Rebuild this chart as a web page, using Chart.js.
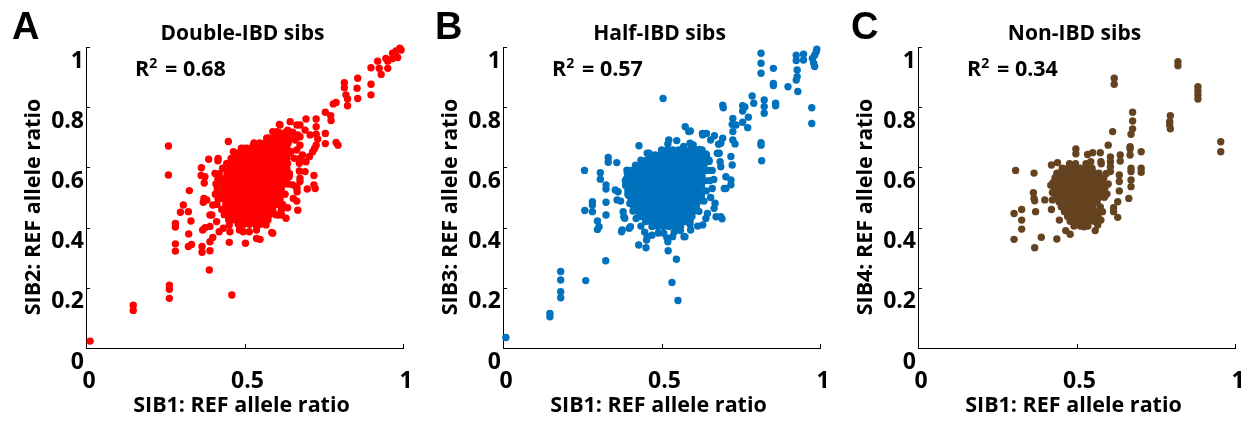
<!DOCTYPE html>
<html>
<head>
<meta charset="utf-8">
<script src="https://cdn.jsdelivr.net/npm/chart.js@4.4.0/dist/chart.umd.min.js"></script>
<style>
  html, body { margin: 0; padding: 0; background: #fff; }
  #wrap { position: relative; width: 1251px; height: 421px; overflow: hidden; }
  .panel { position: absolute; top: 0; width: 417px; height: 421px; }
</style>
</head>
<body>
<div id="wrap">
  <div class="panel" style="left:0px"><canvas id="chartA" width="417" height="421"></canvas></div>
  <div class="panel" style="left:417px"><canvas id="chartB" width="417" height="421"></canvas></div>
  <div class="panel" style="left:832px"><canvas id="chartC" width="417" height="421"></canvas></div>
</div>
<script>
// axes
const xTicks = [0, 0.5, 1];
const xTickLabels = ['0', '0.5', '1'];
const yTicks = [0, 0.2, 0.4, 0.6, 0.8, 1];
const yTickLabels = ['0', '0.2', '0.4', '0.6', '0.8', '1'];

// panel texts
const panelLetters = ['A', 'B', 'C'];
const panelTitles = ['Double-IBD sibs', 'Half-IBD sibs', 'Non-IBD sibs'];
const rSquared = ['0.68', '0.57', '0.34'];
const xTitle = 'SIB1: REF allele ratio';
const yTitles = ['SIB2: REF allele ratio', 'SIB3: REF allele ratio', 'SIB4: REF allele ratio'];
const colors = ['#ff0000', '#0072bd', '#654321'];

// dense cores: [y, [x, x, ...]]
const doubleIbdCore = [
  [0.715, [0.610, 0.628, 0.646]],
  [0.698, [0.575, 0.593, 0.611, 0.629, 0.645]],
  [0.681, [0.530, 0.548, 0.566, 0.584, 0.602, 0.620, 0.638]],
  [0.664, [0.490, 0.508, 0.526, 0.544, 0.562, 0.580, 0.598, 0.616, 0.634]],
  [0.647, [0.470, 0.481, 0.499, 0.517, 0.535, 0.553, 0.571, 0.589, 0.607, 0.625, 0.640]],
  [0.630, [0.458, 0.472, 0.490, 0.508, 0.526, 0.544, 0.562, 0.580, 0.598, 0.616, 0.634]],
  [0.613, [0.444, 0.463, 0.481, 0.499, 0.517, 0.535, 0.553, 0.571, 0.589, 0.607, 0.625, 0.636]],
  [0.596, [0.432, 0.454, 0.472, 0.490, 0.508, 0.526, 0.544, 0.562, 0.580, 0.598, 0.616, 0.634]],
  [0.579, [0.420, 0.445, 0.463, 0.481, 0.499, 0.517, 0.535, 0.553, 0.571, 0.589, 0.607, 0.625, 0.642]],
  [0.562, [0.416, 0.436, 0.454, 0.472, 0.490, 0.508, 0.526, 0.544, 0.562, 0.580, 0.598, 0.616, 0.630]],
  [0.545, [0.410, 0.427, 0.445, 0.463, 0.481, 0.499, 0.517, 0.535, 0.553, 0.571, 0.589, 0.607, 0.625, 0.638]],
  [0.528, [0.414, 0.436, 0.454, 0.472, 0.490, 0.508, 0.526, 0.544, 0.562, 0.580, 0.598, 0.616]],
  [0.511, [0.408, 0.427, 0.445, 0.463, 0.481, 0.499, 0.517, 0.535, 0.553, 0.571, 0.589, 0.607, 0.628]],
  [0.494, [0.417, 0.436, 0.454, 0.472, 0.490, 0.508, 0.526, 0.544, 0.562, 0.580, 0.598, 0.612]],
  [0.477, [0.413, 0.441, 0.459, 0.477, 0.495, 0.513, 0.531, 0.549, 0.567, 0.585, 0.603, 0.620]],
  [0.460, [0.428, 0.445, 0.463, 0.481, 0.499, 0.517, 0.535, 0.553, 0.571, 0.589]],
  [0.443, [0.436, 0.452, 0.470, 0.488, 0.506, 0.524, 0.542, 0.560, 0.578, 0.598]],
  [0.426, [0.450, 0.466, 0.484, 0.502, 0.520, 0.538, 0.556, 0.574]],
  [0.411, [0.480, 0.498, 0.516, 0.534, 0.550]]
];
const doubleIbdOuter = [
  [0.013, 0.023], [0.149, 0.142], [0.149, 0.125], [0.263, 0.209], [0.263, 0.195], [0.263, 0.165],
  [0.460, 0.176], [0.389, 0.259], [0.260, 0.671], [0.260, 0.575], [0.449, 0.686], [0.326, 0.523],
  [0.307, 0.475], [0.298, 0.451], [0.323, 0.453], [0.282, 0.414], [0.282, 0.402], [0.331, 0.422],
  [0.324, 0.379], [0.282, 0.346], [0.282, 0.322], [0.323, 0.337], [0.333, 0.344], [0.368, 0.392],
  [0.376, 0.400], [0.366, 0.337], [0.366, 0.318], [0.391, 0.353], [0.391, 0.323], [0.400, 0.367],
  [0.391, 0.404], [0.364, 0.599], [0.363, 0.573], [0.373, 0.548], [0.387, 0.627], [0.416, 0.622],
  [0.372, 0.497], [0.370, 0.484], [0.400, 0.475], [0.397, 0.442], [0.420, 0.386], [0.452, 0.351],
  [0.503, 0.348], [0.538, 0.364], [0.549, 0.361], [0.589, 0.381], [0.606, 0.442], [0.616, 0.458],
  [0.636, 0.466], [0.668, 0.458], [0.665, 0.488], [0.666, 0.519], [0.665, 0.536], [0.675, 0.553],
  [0.673, 0.588], [0.719, 0.573], [0.719, 0.542], [0.698, 0.528], [0.723, 0.530], [0.694, 0.619],
  [0.705, 0.636], [0.715, 0.652], [0.721, 0.663], [0.694, 0.761], [0.726, 0.761], [0.726, 0.735],
  [0.726, 0.710], [0.731, 0.694], [0.726, 0.674], [0.755, 0.713], [0.755, 0.679], [0.789, 0.683],
  [0.795, 0.674], [0.755, 0.783], [0.772, 0.772], [0.773, 0.756], [0.780, 0.811], [0.789, 0.816],
  [0.815, 0.881], [0.815, 0.865], [0.820, 0.841], [0.825, 0.827], [0.825, 0.805], [0.857, 0.896],
  [0.855, 0.863], [0.857, 0.829], [0.899, 0.931], [0.899, 0.876], [0.899, 0.841], [0.920, 0.953],
  [0.925, 0.929], [0.931, 0.909], [0.952, 0.953], [0.952, 0.929], [0.946, 0.962], [0.967, 0.979],
  [0.978, 0.987], [0.990, 0.996], [0.983, 0.965], [0.967, 0.962], [0.994, 0.990],
  [0.610, 0.743], [0.636, 0.724], [0.652, 0.717], [0.665, 0.741], [0.668, 0.708], [0.660, 0.691],
  [0.576, 0.691], [0.599, 0.708], [0.631, 0.674], [0.675, 0.674], [0.647, 0.652], [0.683, 0.641],
  [0.547, 0.674], [0.605, 0.674], [0.589, 0.719], [0.620, 0.697], [0.657, 0.630], [0.673, 0.614],
  [0.500, 0.663], [0.478, 0.641], [0.460, 0.608], [0.431, 0.597], [0.420, 0.569], [0.641, 0.569],
  [0.652, 0.542], [0.631, 0.431], [0.568, 0.409], [0.515, 0.386], [0.484, 0.392], [0.452, 0.409],
  [0.417, 0.630], [0.407, 0.580], [0.375, 0.569], [0.381, 0.492], [0.391, 0.442], [0.412, 0.420],
  [0.433, 0.398], [0.454, 0.386], [0.496, 0.386], [0.538, 0.392], [0.586, 0.384], [0.617, 0.442],
  [0.654, 0.497], [0.665, 0.530], [0.675, 0.564], [0.691, 0.586], [0.675, 0.630], [0.665, 0.658],
  [0.675, 0.702], [0.707, 0.708], [0.691, 0.724], [0.644, 0.752], [0.675, 0.741], [0.612, 0.741],
  [0.602, 0.719], [0.570, 0.697], [0.528, 0.674], [0.496, 0.663], [0.465, 0.652]
];

const halfIbdCore = [
  [0.658, [0.500, 0.518, 0.536, 0.554, 0.572, 0.590, 0.610, 0.628]],
  [0.641, [0.462, 0.480, 0.498, 0.516, 0.534, 0.552, 0.570, 0.588, 0.606, 0.624, 0.642]],
  [0.624, [0.435, 0.453, 0.471, 0.489, 0.507, 0.525, 0.543, 0.561, 0.579, 0.597, 0.615, 0.633, 0.650]],
  [0.607, [0.418, 0.436, 0.454, 0.472, 0.490, 0.508, 0.526, 0.544, 0.562, 0.580, 0.598, 0.616, 0.634]],
  [0.590, [0.403, 0.421, 0.439, 0.457, 0.475, 0.493, 0.511, 0.529, 0.547, 0.565, 0.583, 0.601, 0.619, 0.637, 0.648]],
  [0.573, [0.396, 0.412, 0.430, 0.448, 0.466, 0.484, 0.502, 0.520, 0.538, 0.556, 0.574, 0.592, 0.610, 0.628]],
  [0.556, [0.386, 0.403, 0.421, 0.439, 0.457, 0.475, 0.493, 0.511, 0.529, 0.547, 0.565, 0.583, 0.601, 0.619, 0.637, 0.652]],
  [0.539, [0.392, 0.410, 0.428, 0.446, 0.464, 0.482, 0.500, 0.518, 0.536, 0.554, 0.572, 0.590, 0.608, 0.626]],
  [0.522, [0.394, 0.403, 0.421, 0.439, 0.457, 0.475, 0.493, 0.511, 0.529, 0.547, 0.565, 0.583, 0.601, 0.619, 0.641]],
  [0.505, [0.398, 0.412, 0.430, 0.448, 0.466, 0.484, 0.502, 0.520, 0.538, 0.556, 0.574, 0.592, 0.610, 0.626]],
  [0.488, [0.405, 0.421, 0.439, 0.457, 0.475, 0.493, 0.511, 0.529, 0.547, 0.565, 0.583, 0.601, 0.619, 0.634]],
  [0.471, [0.412, 0.430, 0.448, 0.466, 0.484, 0.502, 0.520, 0.538, 0.556, 0.574, 0.592, 0.610]],
  [0.454, [0.424, 0.439, 0.457, 0.475, 0.493, 0.511, 0.529, 0.547, 0.565, 0.583, 0.601, 0.618]],
  [0.437, [0.436, 0.454, 0.472, 0.490, 0.508, 0.526, 0.544, 0.562, 0.580, 0.596]],
  [0.420, [0.450, 0.466, 0.484, 0.502, 0.520, 0.538, 0.556, 0.574, 0.590]],
  [0.404, [0.470, 0.488, 0.506, 0.524, 0.542, 0.560]]
];
const halfIbdOuter = [
  [0.009, 0.035], [0.148, 0.115], [0.148, 0.104], [0.182, 0.254], [0.182, 0.226], [0.182, 0.187],
  [0.182, 0.167], [0.261, 0.224], [0.324, 0.290], [0.533, 0.218], [0.552, 0.158], [0.547, 0.295],
  [0.521, 0.323], [0.505, 0.829], [0.257, 0.590], [0.258, 0.457], [0.282, 0.486], [0.282, 0.475],
  [0.282, 0.453], [0.298, 0.422], [0.303, 0.403], [0.298, 0.394], [0.307, 0.582], [0.307, 0.561],
  [0.325, 0.542], [0.325, 0.528], [0.325, 0.484], [0.325, 0.442], [0.332, 0.633], [0.332, 0.617],
  [0.359, 0.616], [0.363, 0.519], [0.371, 0.488], [0.379, 0.453], [0.374, 0.386], [0.384, 0.431],
  [0.398, 0.398], [0.429, 0.672], [0.428, 0.342], [0.451, 0.333], [0.453, 0.359], [0.461, 0.647],
  [0.392, 0.581], [0.389, 0.562], [0.387, 0.540], [0.394, 0.510], [0.400, 0.480], [0.410, 0.455],
  [0.420, 0.430], [0.435, 0.405], [0.447, 0.385], [0.470, 0.375], [0.490, 0.382], [0.517, 0.366],
  [0.520, 0.353], [0.535, 0.370], [0.540, 0.385], [0.574, 0.370], [0.560, 0.390], [0.590, 0.410],
  [0.614, 0.405], [0.630, 0.409], [0.640, 0.430], [0.672, 0.436], [0.691, 0.429], [0.666, 0.464],
  [0.669, 0.481], [0.655, 0.500], [0.660, 0.530], [0.665, 0.560], [0.660, 0.590], [0.650, 0.620],
  [0.640, 0.645], [0.620, 0.660], [0.600, 0.675], [0.575, 0.735], [0.591, 0.721], [0.548, 0.689],
  [0.520, 0.678], [0.570, 0.670], [0.590, 0.680],
  [0.630, 0.708], [0.642, 0.713], [0.667, 0.705], [0.693, 0.697], [0.680, 0.677], [0.725, 0.691],
  [0.732, 0.678], [0.725, 0.719], [0.723, 0.743], [0.725, 0.763], [0.735, 0.741], [0.682, 0.647],
  [0.685, 0.619], [0.719, 0.636], [0.723, 0.608], [0.719, 0.558], [0.719, 0.542], [0.698, 0.530],
  [0.693, 0.807], [0.695, 0.798], [0.756, 0.805], [0.756, 0.787], [0.756, 0.750], [0.763, 0.801],
  [0.774, 0.767], [0.772, 0.732], [0.786, 0.837], [0.791, 0.813], [0.824, 0.824], [0.824, 0.802],
  [0.824, 0.780], [0.860, 0.813], [0.860, 0.805], [0.814, 0.979], [0.814, 0.946], [0.814, 0.913],
  [0.814, 0.682], [0.814, 0.674], [0.816, 0.622], [0.853, 0.929], [0.853, 0.879], [0.853, 0.872],
  [0.899, 0.868], [0.925, 0.973], [0.925, 0.955], [0.928, 0.924], [0.928, 0.901], [0.925, 0.890],
  [0.930, 0.852], [0.948, 0.976], [0.948, 0.957], [0.976, 0.962], [0.980, 0.946], [0.983, 0.935],
  [0.983, 0.973], [0.988, 0.984], [0.990, 0.993], [0.974, 0.798], [0.974, 0.746],
  [0.360, 0.492], [0.354, 0.525], [0.391, 0.591], [0.455, 0.647], [0.523, 0.691], [0.586, 0.719],
  [0.629, 0.713], [0.655, 0.691], [0.687, 0.680], [0.676, 0.647], [0.687, 0.602], [0.703, 0.569],
  [0.703, 0.530], [0.687, 0.436], [0.645, 0.447], [0.592, 0.392], [0.571, 0.370], [0.507, 0.381],
  [0.455, 0.370], [0.402, 0.403], [0.376, 0.392], [0.381, 0.436]
];

const nonIbdCore = [
  [0.612, [0.478, 0.497, 0.530]],
  [0.597, [0.455, 0.472, 0.492, 0.512, 0.532, 0.549]],
  [0.581, [0.440, 0.458, 0.478, 0.498, 0.518, 0.538, 0.558, 0.571]],
  [0.565, [0.432, 0.448, 0.468, 0.488, 0.508, 0.528, 0.548, 0.568, 0.586]],
  [0.549, [0.426, 0.442, 0.462, 0.482, 0.502, 0.522, 0.542, 0.562, 0.580]],
  [0.533, [0.430, 0.450, 0.470, 0.490, 0.510, 0.530, 0.550, 0.570, 0.590]],
  [0.517, [0.424, 0.442, 0.462, 0.482, 0.502, 0.522, 0.542, 0.562, 0.578]],
  [0.501, [0.436, 0.455, 0.475, 0.495, 0.515, 0.535, 0.555, 0.572, 0.588]],
  [0.485, [0.445, 0.465, 0.485, 0.505, 0.525, 0.545, 0.565]],
  [0.469, [0.452, 0.472, 0.492, 0.512, 0.532, 0.552, 0.575]],
  [0.453, [0.462, 0.482, 0.502, 0.522, 0.542, 0.560]],
  [0.437, [0.472, 0.492, 0.512, 0.532, 0.552, 0.568]],
  [0.421, [0.480, 0.500, 0.520, 0.540, 0.556]],
  [0.405, [0.492, 0.512, 0.536]]
];
const nonIbdOuter = [
  [0.308, 0.590], [0.366, 0.581], [0.303, 0.447], [0.303, 0.361], [0.327, 0.460], [0.327, 0.425],
  [0.327, 0.395], [0.364, 0.516], [0.366, 0.497], [0.368, 0.489], [0.371, 0.453], [0.368, 0.333],
  [0.389, 0.368], [0.400, 0.492], [0.438, 0.362], [0.446, 0.425], [0.466, 0.390], [0.480, 0.378],
  [0.421, 0.460], [0.424, 0.492], [0.419, 0.541], [0.421, 0.608], [0.440, 0.616], [0.438, 0.580],
  [0.498, 0.661], [0.498, 0.645], [0.535, 0.643], [0.551, 0.649], [0.575, 0.649], [0.545, 0.619],
  [0.577, 0.619], [0.578, 0.612], [0.600, 0.674], [0.614, 0.719], [0.619, 0.896], [0.619, 0.876],
  [0.607, 0.635], [0.607, 0.619], [0.607, 0.602], [0.607, 0.586], [0.638, 0.641], [0.638, 0.621],
  [0.677, 0.783], [0.677, 0.754], [0.677, 0.728], [0.672, 0.710], [0.669, 0.669], [0.669, 0.661],
  [0.669, 0.641], [0.704, 0.652], [0.672, 0.597], [0.672, 0.586], [0.672, 0.558], [0.672, 0.536],
  [0.704, 0.597], [0.704, 0.584], [0.665, 0.497], [0.630, 0.486], [0.630, 0.434], [0.617, 0.466],
  [0.617, 0.453], [0.635, 0.575], [0.635, 0.553], [0.635, 0.522], [0.582, 0.453], [0.577, 0.425],
  [0.559, 0.390], [0.796, 0.772], [0.794, 0.752], [0.794, 0.741], [0.796, 0.728], [0.820, 0.951],
  [0.820, 0.938], [0.883, 0.868], [0.883, 0.854], [0.883, 0.841], [0.883, 0.827], [0.955, 0.685],
  [0.955, 0.652], [0.524, 0.403], [0.567, 0.409], [0.596, 0.512], [0.600, 0.545], [0.594, 0.580]
];

function toPoints(core, outer) {
  const pts = [];
  core.forEach(([y, xs]) => xs.forEach(x => pts.push({ x: x, y: y })));
  outer.forEach(([x, y]) => pts.push({ x: x, y: y }));
  return pts;
}

const seriesData = [
  toPoints(doubleIbdCore, doubleIbdOuter),
  toPoints(halfIbdCore, halfIbdOuter),
  toPoints(nonIbdCore, nonIbdOuter)
];

const textFont = '"Open Sans", Lato, sans-serif';

// letters, titles, R^2, axis titles and the inward tick marks
const decorPlugin = {
  id: 'decor',
  afterDraw(chart, args, opts) {
    const ctx = chart.ctx;
    const a = chart.chartArea;
    const xs = chart.scales.x;
    const ys = chart.scales.y;
    ctx.save();
    ctx.strokeStyle = '#000';
    ctx.lineWidth = 1;
    xTicks.forEach(v => {
      const px = Math.round(xs.getPixelForValue(v)) + 0.5;
      ctx.beginPath();
      ctx.moveTo(px, a.bottom);
      ctx.lineTo(px, a.bottom - 4);
      ctx.stroke();
    });
    yTicks.forEach(v => {
      const py = Math.round(ys.getPixelForValue(v)) + 0.5;
      ctx.beginPath();
      ctx.moveTo(a.left, py);
      ctx.lineTo(a.left + 4, py);
      ctx.stroke();
    });

    ctx.fillStyle = '#000';
    ctx.textBaseline = 'alphabetic';
    ctx.textAlign = 'left';
    ctx.font = 'bold 38px "Liberation Sans", Arial, sans-serif';
    ctx.fillText(opts.letter, a.left + opts.letterDx, 39);

    const cx = (a.left + a.right) / 2;
    ctx.textAlign = 'center';
    ctx.font = 'bold 21px ' + textFont;
    ctx.fillText(opts.title, cx - 2, 40);
    ctx.font = 'bold 21.5px ' + textFont;
    ctx.fillText(xTitle, cx - 3, 412);

    ctx.textAlign = 'left';
    ctx.font = 'bold 21.5px ' + textFont;
    ctx.fillText('R', a.left + 49, 76);
    const rw = ctx.measureText('R').width;
    ctx.fillText('= ' + opts.r2, a.left + 79, 76);
    ctx.font = 'bold 14px ' + textFont;
    ctx.fillText('2', a.left + 49 + rw, 68);

    ctx.font = 'bold 21.5px ' + textFont;
    ctx.translate(a.left - 52, 207);
    ctx.rotate(-Math.PI / 2);
    ctx.textAlign = 'center';
    ctx.textBaseline = 'middle';
    ctx.fillText(opts.yTitle, 0, 0);
    ctx.restore();
  }
};

const canvasIds = ['chartA', 'chartB', 'chartC'];
const letterDx = [-74, -68, -67];

canvasIds.forEach((id, i) => {
  const ctx = document.getElementById(id).getContext('2d');
  new Chart(ctx, {
    type: 'scatter',
    data: {
      datasets: [{
        data: seriesData[i],
        backgroundColor: colors[i],
        borderWidth: 0,
        pointRadius: 3.7,
        pointHoverRadius: 3.7,
        clip: false
      }]
    },
    options: {
      responsive: false,
      animation: false,
      devicePixelRatio: 1,
      layout: { padding: { top: 47, right: 14, bottom: 0, left: 0 } },
      plugins: {
        legend: { display: false },
        tooltip: { enabled: false },
        decor: {
          letter: panelLetters[i],
          letterDx: letterDx[i],
          title: panelTitles[i],
          r2: rSquared[i],
          yTitle: yTitles[i]
        }
      },
      scales: {
        x: {
          type: 'linear',
          min: 0,
          max: 1,
          afterBuildTicks: scale => { scale.ticks = xTicks.map(v => ({ value: v })); },
          afterFit: scale => {
            scale.height = 73;
            scale.paddingLeft = 0;
            scale.paddingRight = 0;
          },
          grid: { display: false, drawTicks: false },
          border: { display: true, color: '#000', width: 1 },
          ticks: {
            autoSkip: false,
            maxRotation: 0,
            padding: 20,
            labelOffset: 3,
            color: '#000',
            font: { family: textFont, size: 23, weight: 'bold' },
            callback: (v, idx) => xTickLabels[idx]
          }
        },
        y: {
          type: 'linear',
          min: 0,
          max: 1,
          afterBuildTicks: scale => { scale.ticks = yTicks.map(v => ({ value: v })); },
          afterFit: scale => {
            scale.width = 86;
            scale.paddingTop = 0;
            scale.paddingBottom = 0;
          },
          grid: { display: false, drawTicks: false },
          border: { display: true, color: '#000', width: 1 },
          ticks: {
            autoSkip: false,
            padding: 2,
            labelOffset: 14,
            color: '#000',
            font: { family: textFont, size: 23, weight: 'bold' },
            callback: (v, idx) => yTickLabels[idx]
          }
        }
      }
    },
    plugins: [decorPlugin]
  });
});
</script>
</body>
</html>
